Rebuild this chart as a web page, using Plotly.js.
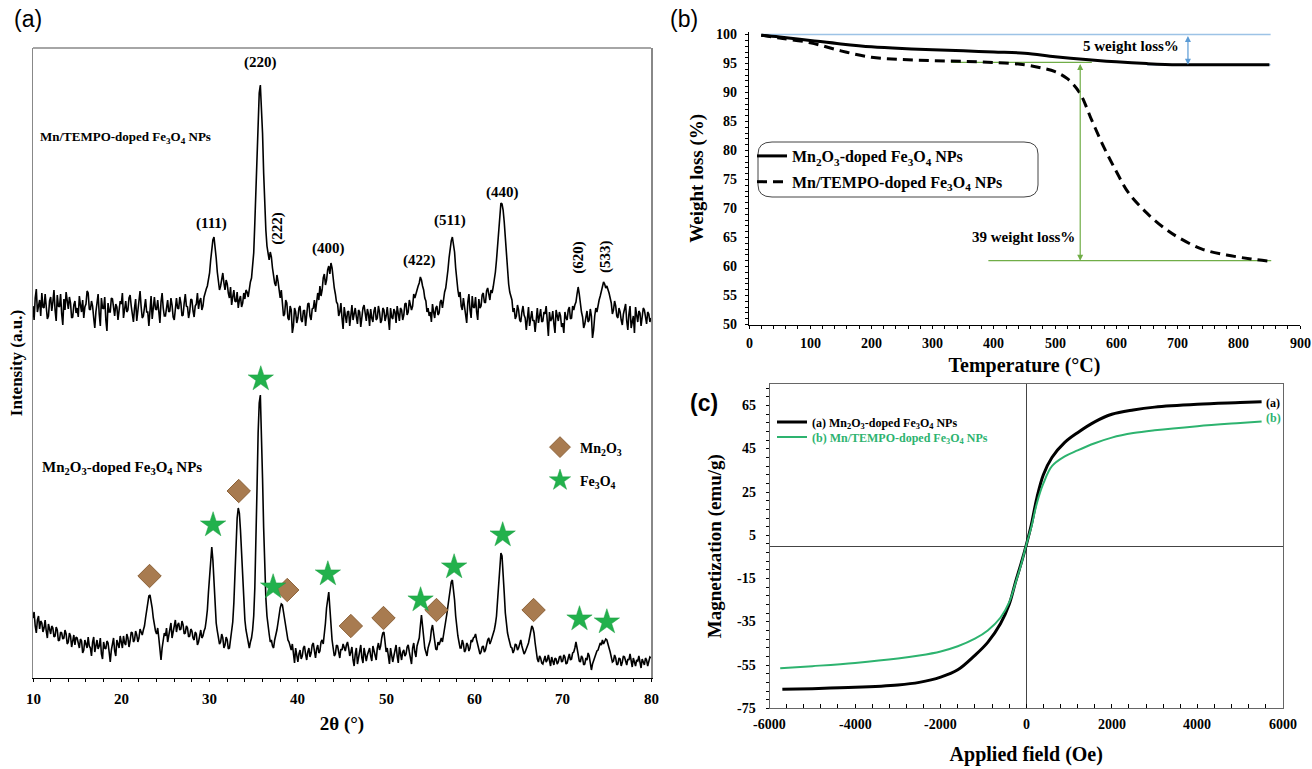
<!DOCTYPE html>
<html><head><meta charset="utf-8">
<script src="https://cdn.plot.ly/plotly-3.0.1.min.js"></script>
<style>html,body{margin:0;padding:0;background:#fff;}#chart{width:1312px;height:769px;}</style>
</head><body><div id="chart"></div>
<script>
// ---------- (a) XRD ----------
const twoTheta = [
10,10.125,10.25,10.375,10.5,10.625,10.75,10.875,11,11.125,11.25,11.375,11.5,11.625,11.75,11.875,12,12.125,12.25,12.375,12.5,12.625,12.75,12.875,13,13.125,13.25,13.375,13.5,13.625,13.75,13.875,14,14.125,14.25,14.375,14.5,14.625,14.75,14.875,
15,15.125,15.25,15.375,15.5,15.625,15.75,15.875,16,16.125,16.25,16.375,16.5,16.625,16.75,16.875,17,17.125,17.25,17.375,17.5,17.625,17.75,17.875,18,18.125,18.25,18.375,18.5,18.625,18.75,18.875,19,19.125,19.25,19.375,19.5,19.625,19.75,19.875,
20,20.125,20.25,20.375,20.5,20.625,20.75,20.875,21,21.125,21.25,21.375,21.5,21.625,21.75,21.875,22,22.125,22.25,22.375,22.5,22.625,22.75,22.875,23,23.125,23.25,23.375,23.5,23.625,23.75,23.875,24,24.125,24.25,24.375,24.5,24.625,24.75,24.875,
25,25.125,25.25,25.375,25.5,25.625,25.75,25.875,26,26.125,26.25,26.375,26.5,26.625,26.75,26.875,27,27.125,27.25,27.375,27.5,27.625,27.75,27.875,28,28.125,28.25,28.375,28.5,28.625,28.75,28.875,29,29.125,29.25,29.375,29.5,29.625,29.75,29.875,
30,30.125,30.25,30.375,30.5,30.625,30.75,30.875,31,31.125,31.25,31.375,31.5,31.625,31.75,31.875,32,32.125,32.25,32.375,32.5,32.625,32.75,32.875,33,33.125,33.25,33.375,33.5,33.625,33.75,33.875,34,34.125,34.25,34.375,34.5,34.625,34.75,34.875,
35,35.125,35.25,35.375,35.5,35.625,35.75,35.875,36,36.125,36.25,36.375,36.5,36.625,36.75,36.875,37,37.125,37.25,37.375,37.5,37.625,37.75,37.875,38,38.125,38.25,38.375,38.5,38.625,38.75,38.875,39,39.125,39.25,39.375,39.5,39.625,39.75,39.875,
40,40.125,40.25,40.375,40.5,40.625,40.75,40.875,41,41.125,41.25,41.375,41.5,41.625,41.75,41.875,42,42.125,42.25,42.375,42.5,42.625,42.75,42.875,43,43.125,43.25,43.375,43.5,43.625,43.75,43.875,44,44.125,44.25,44.375,44.5,44.625,44.75,44.875,
45,45.125,45.25,45.375,45.5,45.625,45.75,45.875,46,46.125,46.25,46.375,46.5,46.625,46.75,46.875,47,47.125,47.25,47.375,47.5,47.625,47.75,47.875,48,48.125,48.25,48.375,48.5,48.625,48.75,48.875,49,49.125,49.25,49.375,49.5,49.625,49.75,49.875,
50,50.125,50.25,50.375,50.5,50.625,50.75,50.875,51,51.125,51.25,51.375,51.5,51.625,51.75,51.875,52,52.125,52.25,52.375,52.5,52.625,52.75,52.875,53,53.125,53.25,53.375,53.5,53.625,53.75,53.875,54,54.125,54.25,54.375,54.5,54.625,54.75,54.875,
55,55.125,55.25,55.375,55.5,55.625,55.75,55.875,56,56.125,56.25,56.375,56.5,56.625,56.75,56.875,57,57.125,57.25,57.375,57.5,57.625,57.75,57.875,58,58.125,58.25,58.375,58.5,58.625,58.75,58.875,59,59.125,59.25,59.375,59.5,59.625,59.75,59.875,
60,60.125,60.25,60.375,60.5,60.625,60.75,60.875,61,61.125,61.25,61.375,61.5,61.625,61.75,61.875,62,62.125,62.25,62.375,62.5,62.625,62.75,62.875,63,63.125,63.25,63.375,63.5,63.625,63.75,63.875,64,64.125,64.25,64.375,64.5,64.625,64.75,64.875,
65,65.125,65.25,65.375,65.5,65.625,65.75,65.875,66,66.125,66.25,66.375,66.5,66.625,66.75,66.875,67,67.125,67.25,67.375,67.5,67.625,67.75,67.875,68,68.125,68.25,68.375,68.5,68.625,68.75,68.875,69,69.125,69.25,69.375,69.5,69.625,69.75,69.875,
70,70.125,70.25,70.375,70.5,70.625,70.75,70.875,71,71.125,71.25,71.375,71.5,71.625,71.75,71.875,72,72.125,72.25,72.375,72.5,72.625,72.75,72.875,73,73.125,73.25,73.375,73.5,73.625,73.75,73.875,74,74.125,74.25,74.375,74.5,74.625,74.75,74.875,
75,75.125,75.25,75.375,75.5,75.625,75.75,75.875,76,76.125,76.25,76.375,76.5,76.625,76.75,76.875,77,77.125,77.25,77.375,77.5,77.625,77.75,77.875,78,78.125,78.25,78.375,78.5,78.625,78.75,78.875,79,79.125,79.25,79.375,79.5,79.625,79.75,79.875,
80];
// Mn/TEMPO-doped Fe3O4 NPs (upper pattern, offset a.u.)
const xrdTempo = [
372,358,380,389,366,375,378,362,385,371,370,384,374,359,362,377,381,367,376,388,368,357,383,372,371,384,364,353,379,368,386,374,369,381,375,360,361,373,377,365,
370,361,382,373,366,378,360,371,374,387,385,369,368,377,372,360,350,366,376,384,364,352,380,370,369,381,358,347,375,366,366,380,379,370,362,374,371,358,367,377,
374,385,360,369,377,366,368,380,383,372,364,356,370,379,357,368,376,387,371,360,362,373,379,366,366,352,373,382,359,370,381,369,368,378,364,355,376,385,370,362,
362,371,378,366,367,380,373,361,358,369,380,370,369,381,375,362,363,375,384,372,371,360,366,379,378,367,361,372,374,385,369,377,380,368,372,381,386,389,392,398,
405,418,428,438,441,433,420,406,398,388,392,401,405,395,388,398,394,385,380,391,373,381,388,377,376,386,370,378,382,371,375,385,379,388,386,381,390,396,400,410,
425,455,490,530,565,585,593,575,545,505,470,448,432,425,418,426,421,410,402,395,392,403,397,386,380,388,372,362,364,378,375,360,358,372,368,345,352,370,366,355,
360,370,372,358,356,367,368,352,363,374,375,362,358,369,370,378,366,380,385,378,392,382,388,400,404,393,398,408,412,404,415,410,396,390,384,376,374,362,366,375,
360,349,371,362,355,366,367,352,362,373,358,366,370,361,354,368,366,351,361,370,373,362,357,369,364,352,369,360,356,367,371,358,360,372,366,355,358,370,368,357,
362,371,355,348,370,361,359,369,366,355,372,364,357,370,368,358,363,374,375,363,366,378,372,368,372,384,380,386,388,392,395,401,398,392,388,380,377,366,370,362,
366,356,374,366,360,370,372,363,365,376,378,370,380,386,390,398,408,420,430,437,441,435,426,410,396,388,381,386,372,368,380,372,364,355,376,384,368,360,382,371,
370,381,366,358,379,370,372,383,385,376,375,387,390,383,378,388,385,391,398,406,418,434,452,466,475,474,468,456,440,420,405,394,386,380,378,366,370,359,362,373,
368,358,356,366,372,363,360,348,365,371,352,362,367,357,358,346,362,370,355,364,369,356,357,366,364,372,350,342,366,357,359,367,354,345,368,360,357,366,362,351,
355,345,366,360,358,368,371,359,360,372,368,373,376,384,391,384,372,366,361,350,354,362,367,356,358,369,362,340,348,362,370,366,374,378,382,388,390,396,394,390,
392,389,385,380,375,364,368,377,372,362,360,370,366,358,353,364,369,374,357,348,364,372,350,359,362,345,371,363,356,367,365,352,359,370,368,358,354,366,364,356,
360];
// Mn2O3-doped Fe3O4 NPs (lower pattern)
const xrdMn2O3 = [
60,66,52,45,58,62,49,57,55,46,50,58,47,40,54,48,44,52,50,41,42,51,48,37,38,46,45,39,40,48,44,34,36,45,42,31,38,43,33,41,
40,33,30,39,37,25,28,38,35,30,41,32,30,22,36,41,26,33,38,29,32,40,24,19,36,30,29,37,35,26,16,28,33,40,27,22,38,32,30,42,
36,30,42,35,33,44,40,31,37,46,45,36,38,47,43,36,40,49,46,43,48,52,60,68,75,82,83,78,70,60,52,47,44,50,40,28,18,30,38,45,
42,50,36,44,48,55,40,47,52,58,46,53,55,48,49,57,53,44,45,52,50,41,42,49,47,40,38,46,44,33,36,45,48,40,42,47,50,58,68,86,
105,122,131,118,95,72,55,47,42,34,36,44,40,30,33,41,38,29,30,38,45,56,75,108,140,160,170,165,148,125,100,76,58,48,42,33,30,36,40,48,
62,90,130,190,245,275,283,250,200,150,110,80,62,50,44,36,38,32,30,38,42,48,55,64,70,74,73,66,58,50,42,38,36,30,28,34,22,15,30,24,
16,24,28,19,22,30,32,24,18,26,30,21,25,33,35,27,20,29,33,25,27,36,38,34,42,55,70,82,86,70,50,38,30,22,24,33,32,24,20,29,
28,34,31,27,33,36,30,22,26,31,18,12,24,30,14,20,28,33,20,15,30,25,17,23,26,30,22,17,32,27,24,18,30,35,28,32,40,45,46,36,
26,30,20,14,30,24,16,22,27,33,22,15,31,25,18,26,28,22,24,31,33,26,20,14,30,35,26,21,32,36,40,52,63,52,36,30,26,22,30,35,
38,48,53,45,35,29,28,36,33,38,40,36,42,48,55,64,72,82,90,96,98,90,78,62,50,42,36,30,30,38,34,26,28,35,33,27,30,38,36,40,
41,44,38,33,30,24,26,31,32,26,28,34,38,40,34,37,40,44,48,54,62,78,95,112,125,122,108,85,65,52,45,40,36,31,30,25,28,34,33,28,
30,36,38,32,28,24,26,30,32,35,40,48,52,50,45,35,25,19,16,22,20,15,14,20,22,16,18,23,15,12,21,17,13,20,19,14,16,21,22,16,
17,23,21,14,15,20,24,18,19,25,26,30,36,30,22,17,16,22,20,13,14,20,18,25,22,15,8,14,17,22,24,27,28,32,35,33,38,34,36,39,
38,35,30,26,22,16,17,23,20,13,14,20,19,12,16,22,21,15,13,19,18,24,15,11,20,16,12,18,17,22,14,10,19,15,13,20,18,12,16,21,
20];
const mn2o3PeakX = [23.2, 33.3, 38.8, 46.0, 49.7, 55.7, 66.7];
const mn2o3PeakY = [102, 187, 88, 52, 60, 68, 68];
const fe3o4PeakX = [30.4, 35.8, 37.2, 43.4, 53.9, 57.7, 63.2, 71.9, 75.0];
const fe3o4PeakY = [153, 299, 91, 104, 78, 111, 143, 59, 56];
const hklLabels = ['(220)','(111)','(222)','(400)','(422)','(511)','(440)','(620)','(533)'];
const hklX = [35.8, 30.27, 37.6, 43.5, 53.8, 57.2, 63.2, 71.7, 74.8];
const hklY = [616, 455, 450, 430, 418, 458, 486, 421, 421];
const hklAngle = [0, 0, -90, 0, 0, 0, 0, -90, -90];
const thetaTicks = [10, 20, 30, 40, 50, 60, 70, 80];

// ---------- (b) TGA ----------
const tempMn = [20, 50, 100, 150, 200, 250, 300, 350, 400, 450, 500, 550, 600, 650, 700, 750, 800, 850];
const wtMn = [99.9, 99.6, 99.0, 98.4, 97.9, 97.6, 97.4, 97.2, 97.0, 96.8, 96.2, 95.7, 95.3, 95.0, 94.8, 94.8, 94.8, 94.8];
const tempTempo = [20, 50, 100, 150, 200, 250, 300, 350, 400, 450, 480, 500, 520, 540, 560, 580, 600, 620, 650, 680, 700, 740, 780, 820, 850];
const wtTempo = [99.9, 99.4, 98.6, 97.2, 96.1, 95.7, 95.5, 95.4, 95.2, 94.8, 94.2, 93.6, 92.4, 90.0, 85.2, 80.5, 76.4, 72.7, 69.2, 66.5, 65.1, 63.0, 62.0, 61.3, 60.9];
const lossTop = 100, lossMnEnd = 94.8, lossTempoStart = 95.2, lossTempoEnd = 61;
const tempTicks = [0, 100, 200, 300, 400, 500, 600, 700, 800, 900];
const wtTicks = [50, 55, 60, 65, 70, 75, 80, 85, 90, 95, 100];

// ---------- (c) VSM ----------
const fieldA = [-5700, -5000, -4000, -3000, -2500, -2000, -1600, -1200, -900, -600, -400, -250, -120, 0, 120, 250, 400, 600, 900, 1200, 1600, 2000, 2500, 3000, 4000, 5000, 5500];
const magA = [-66.2, -65.9, -65.3, -64.2, -63.0, -60.6, -57.2, -50.5, -44.5, -35.8, -27.0, -16.5, -8.0, 0.5, 10.0, 22.5, 33.0, 41.0, 48.0, 52.5, 57.5, 61.0, 63.0, 64.3, 65.6, 66.4, 66.8];
const fieldB = [-5750, -5000, -4000, -3000, -2500, -2000, -1600, -1200, -900, -600, -400, -250, -120, 0, 120, 250, 400, 600, 900, 1200, 1600, 2000, 2500, 3000, 4000, 5000, 5500];
const magB = [-56.5, -55.5, -54.0, -52.0, -50.6, -48.7, -46.3, -42.8, -39.0, -33.0, -26.0, -17.0, -8.5, 0.5, 9.0, 20.0, 29.0, 37.0, 41.5, 44.3, 47.6, 50.2, 52.3, 53.6, 55.5, 57.0, 57.7];
const fieldTicks = [-6000, -4000, -2000, 0, 2000, 4000, 6000];
const fieldTickText = ['-6000', '-4000', '-2000', '0', '2000', '4000', '6000'];
const magTicks = [-75, -55, -35, -15, 5, 25, 45, 65];
const magTickText = ['-75', '-55', '-35', '-15', '5', '25', '45', '65'];

// ---------- helpers ----------
const W = 1312, H = 769;
const PX = v => v / W, PY = v => 1 - v / H;
const serif = 'Liberation Serif';
const sans = 'Liberation Sans';
const bf = (size, color) => ({family: serif, size: size, color: color || '#000', weight: 'bold'});
const green = '#2DB36F';
const tgaGreen = '#70AD47';
const tgaBlue = '#9DC3E6';
const arrowBlue = '#5B9BD5';
const blank = arr => arr.map(() => '');

const traces = [
  {x: twoTheta, y: xrdTempo, xaxis: 'x', yaxis: 'y', mode: 'lines', line: {color: '#000', width: 1.6}, showlegend: false, hoverinfo: 'skip'},
  {x: twoTheta, y: xrdMn2O3, xaxis: 'x', yaxis: 'y', mode: 'lines', line: {color: '#000', width: 1.6}, showlegend: false, hoverinfo: 'skip'},
  {x: mn2o3PeakX, y: mn2o3PeakY, xaxis: 'x', yaxis: 'y', mode: 'markers', name: 'Mn<sub>2</sub>O<sub>3</sub>',
   marker: {symbol: 'diamond', size: 18, color: '#A87B50', line: {color: '#8C6239', width: 1}}, legend: 'legend', legendgroup: 'g1'},
  {x: fe3o4PeakX, y: fe3o4PeakY, xaxis: 'x', yaxis: 'y', mode: 'markers', name: 'Fe<sub>3</sub>O<sub>4</sub>',
   marker: {symbol: 'star', size: 19, color: '#22B14C', line: {color: '#1E9E44', width: 0.5}}, legend: 'legend', legendgroup: 'g2'},
  {x: tempMn, y: wtMn, xaxis: 'x2', yaxis: 'y2', mode: 'lines', line: {color: '#000', width: 3, shape: 'spline'},
   name: 'Mn<sub>2</sub>O<sub>3</sub>-doped Fe<sub>3</sub>O<sub>4</sub> NPs', legend: 'legend2', legendgroup: 'g3'},
  {x: tempTempo, y: wtTempo, xaxis: 'x2', yaxis: 'y2', mode: 'lines', line: {color: '#000', width: 3, dash: '10px,6px', shape: 'spline'},
   name: 'Mn/TEMPO-doped Fe<sub>3</sub>O<sub>4</sub> NPs', legend: 'legend2', legendgroup: 'g4'},
  {x: fieldA, y: magA, xaxis: 'x3', yaxis: 'y3', mode: 'lines', line: {color: '#000', width: 3, shape: 'spline'},
   name: '(a) Mn<sub>2</sub>O<sub>3</sub>-doped Fe<sub>3</sub>O<sub>4</sub> NPs', legend: 'legend3', legendgroup: 'g5'},
  {x: fieldB, y: magB, xaxis: 'x3', yaxis: 'y3', mode: 'lines', line: {color: green, width: 2, shape: 'spline'},
   name: '(b) Mn/TEMPO-doped Fe<sub>3</sub>O<sub>4</sub> NPs', legend: 'legend4', legendgroup: 'g6'}
];

const ann = (o) => Object.assign({showarrow: false, xanchor: 'center', yanchor: 'middle'}, o);
const annotations = [
  ann({text: '(a)', xref: 'paper', yref: 'paper', x: PX(28), y: PY(19), font: {family: sans, size: 23, color: '#000', weight: 'normal'}}),
  ann({text: '(b)', xref: 'paper', yref: 'paper', x: PX(684), y: PY(19), font: {family: sans, size: 23, color: '#000', weight: 'normal'}}),
  ann({text: '(c)', xref: 'paper', yref: 'paper', x: PX(704), y: PY(403), font: {family: sans, size: 23, color: '#000', weight: 'bold'}}),
  ann({text: 'Mn/TEMPO-doped Fe<sub>3</sub>O<sub>4</sub> NPs', xref: 'x', yref: 'y', x: 10.6, y: 541, xanchor: 'left', font: bf(13)}),
  ann({text: 'Mn<sub>2</sub>O<sub>3</sub>-doped Fe<sub>3</sub>O<sub>4</sub> NPs', xref: 'x', yref: 'y', x: 10.8, y: 210, xanchor: 'left', font: bf(15)}),
  ann({text: '5 weight loss%', xref: 'x2', yref: 'y2', x: 624, y: 98.0, font: bf(15)}),
  ann({text: '39 weight loss%', xref: 'x2', yref: 'y2', x: 535, y: 65.1, xanchor: 'right', font: bf(15)}),
  {text: '', xref: 'x2', yref: 'y2', axref: 'x2', ayref: 'y2', x: 717, y: lossMnEnd, ax: 717, ay: lossTop, showarrow: true,
   arrowhead: 2, startarrowhead: 2, arrowside: 'end+start', arrowsize: 1, arrowwidth: 1.2, arrowcolor: arrowBlue},
  {text: '', xref: 'x2', yref: 'y2', axref: 'x2', ayref: 'y2', x: 541, y: lossTempoEnd, ax: 541, ay: lossTempoStart, showarrow: true,
   arrowhead: 2, startarrowhead: 2, arrowside: 'end+start', arrowsize: 1, arrowwidth: 1.2, arrowcolor: tgaGreen},
  ann({text: '(a)', xref: 'x3', yref: 'y3', x: 5560, y: 66.3, xanchor: 'left', font: bf(12)}),
  ann({text: '(b)', xref: 'x3', yref: 'y3', x: 5560, y: 59.4, xanchor: 'left', font: bf(12, green)})
];
hklLabels.forEach((t, i) => annotations.push(ann({text: t, xref: 'x', yref: 'y', x: hklX[i], y: hklY[i], textangle: hklAngle[i], font: bf(15)})));
// tick labels (bold Times-like), drawn as annotations at the axis tick values
thetaTicks.forEach(v => annotations.push(ann({text: String(v), xref: 'x', yref: 'paper', x: v, y: PY(699), font: bf(15)})));
tempTicks.forEach(v => annotations.push(ann({text: String(v), xref: 'x2', yref: 'paper', x: v, y: PY(343), font: bf(14)})));
wtTicks.forEach(v => annotations.push(ann({text: String(v), xref: 'paper', yref: 'y2', x: PX(739), y: v, xanchor: 'right', font: bf(14)})));
fieldTicks.forEach((v, i) => annotations.push(ann({text: fieldTickText[i], xref: 'x3', yref: 'paper', x: v, y: PY(724), font: bf(14)})));
magTicks.forEach((v, i) => annotations.push(ann({text: magTickText[i], xref: 'paper', yref: 'y3', x: PX(758), y: v, xanchor: 'right', font: bf(14)})));

// rounded legend frame for (b)
const bx0 = PX(758), bx1 = PX(1038), byT = PY(142), byB = PY(197), rx = 14 / W, ry = 12 / H;
const roundPath = `M ${bx0 + rx},${byT} L ${bx1 - rx},${byT} Q ${bx1},${byT} ${bx1},${byT - ry} L ${bx1},${byB + ry} Q ${bx1},${byB} ${bx1 - rx},${byB} L ${bx0 + rx},${byB} Q ${bx0},${byB} ${bx0},${byB + ry} L ${bx0},${byT - ry} Q ${bx0},${byT} ${bx0 + rx},${byT} Z`;

const shapes = [
  {type: 'line', xref: 'x domain', yref: 'y domain', x0: 0, x1: 1, y0: 1, y1: 1, line: {color: '#888', width: 1.5}},
  {type: 'line', xref: 'x2', yref: 'y2', x0: 21, x1: 852, y0: lossTop, y1: lossTop, line: {color: tgaBlue, width: 1.5}, layer: 'below'},
  {type: 'line', xref: 'x2', yref: 'y2', x0: 650, x1: 852, y0: lossMnEnd, y1: lossMnEnd, line: {color: tgaBlue, width: 1.5}, layer: 'below'},
  {type: 'line', xref: 'x2', yref: 'y2', x0: 330, x1: 560, y0: lossTempoStart, y1: lossTempoStart, line: {color: tgaGreen, width: 1.2}, layer: 'below'},
  {type: 'line', xref: 'x2', yref: 'y2', x0: 391, x1: 853, y0: lossTempoEnd, y1: lossTempoEnd, line: {color: tgaGreen, width: 1.2}, layer: 'below'},
  {type: 'path', xref: 'paper', yref: 'paper', path: roundPath, line: {color: '#444', width: 1}, fillcolor: 'rgba(0,0,0,0)'}
];

const legendBase = (x, y, size) => ({x: x, y: y, xanchor: 'left', yanchor: 'middle', bgcolor: 'rgba(0,0,0,0)', font: bf(size)});
const layout = {
  width: W, height: H, margin: {l: 0, r: 0, t: 0, b: 0}, paper_bgcolor: '#fff', plot_bgcolor: 'rgba(0,0,0,0)',
  showlegend: true,
  font: {family: serif, size: 14, color: '#000'},
  xaxis: {domain: [PX(33), PX(651)], range: [10, 80], anchor: 'y', tickmode: 'array', tickvals: thetaTicks, ticktext: blank(thetaTicks), showticklabels: false,
    ticks: 'outside', ticklen: 5, tickcolor: '#000',
    showline: true, linecolor: '#000', linewidth: 1.2, showgrid: false, zeroline: false, automargin: false,
    minor: {tickmode: 'linear', tick0: 10, dtick: 2, ticks: 'outside', ticklen: 3, tickcolor: '#000'},
    title: {text: '2θ (°)', font: bf(19), standoff: 33}},
  yaxis: {domain: [PY(678), PY(48)], range: [0, 630], anchor: 'x', showticklabels: false, ticks: '', showline: true, mirror: true,
    linecolor: '#888', linewidth: 1.5, showgrid: false, zeroline: false, automargin: false,
    title: {text: 'Intensity (a.u.)', font: bf(17), standoff: 4}},
  xaxis2: {domain: [PX(749), PX(1300)], range: [0, 900], anchor: 'y2', tickmode: 'array', tickvals: tempTicks, ticktext: blank(tempTicks), showticklabels: false,
    ticks: 'outside', ticklen: 5, tickcolor: '#000',
    showline: true, linecolor: '#000', showgrid: false, zeroline: false, automargin: false,
    minor: {tickmode: 'linear', tick0: 0, dtick: 20, ticks: 'outside', ticklen: 3, tickcolor: '#000'},
    title: {text: 'Temperature (°C)', font: bf(20), standoff: 28}},
  yaxis2: {domain: [PY(324.5), PY(32)], range: [50, 100.45], anchor: 'x2', tickmode: 'array', tickvals: wtTicks, ticktext: blank(wtTicks), showticklabels: false,
    ticks: 'outside', ticklen: 5, tickcolor: '#000',
    showline: true, linecolor: '#000', showgrid: false, zeroline: false, automargin: false,
    minor: {tickmode: 'linear', tick0: 50, dtick: 1, ticks: 'outside', ticklen: 3, tickcolor: '#000'},
    title: {text: 'Weight loss (%)', font: bf(19), standoff: 34}},
  xaxis3: {domain: [PX(769.5), PX(1283)], range: [-6000, 6000], anchor: 'y3', tickmode: 'array', tickvals: fieldTicks, ticktext: blank(fieldTicks), showticklabels: false,
    ticks: 'inside', ticklen: 6, tickcolor: '#000',
    showline: true, mirror: true, linecolor: '#666', showgrid: false, zeroline: true, zerolinecolor: '#444', zerolinewidth: 1,
    automargin: false, minor: {tickmode: 'linear', tick0: -6000, dtick: 400, ticks: 'inside', ticklen: 4, tickcolor: '#000'},
    title: {text: 'Applied field (Oe)', font: bf(20), standoff: 38}},
  yaxis3: {domain: [PY(708.3), PY(384)], range: [-75, 75], anchor: 'x3', tickmode: 'array', tickvals: magTicks, ticktext: blank(magTicks), showticklabels: false,
    ticks: 'outside', ticklen: 5, tickcolor: '#000',
    showline: true, mirror: true, linecolor: '#666', showgrid: false, zeroline: true, zerolinecolor: '#444', zerolinewidth: 1,
    automargin: false, minor: {tickmode: 'linear', tick0: -75, dtick: 4, ticks: 'outside', ticklen: 3, tickcolor: '#000'},
    title: {text: 'Magnetization (emu/g)', font: bf(19), standoff: 36}},
  legend: Object.assign(legendBase(PX(540), PY(464), 14), {tracegroupgap: 12}),
  legend2: Object.assign(legendBase(PX(752), PY(169), 16), {tracegroupgap: 2}),
  legend3: legendBase(PX(772), PY(422), 12),
  legend4: Object.assign(legendBase(PX(772), PY(437), 12), {font: bf(12, green)}),
  annotations: annotations,
  shapes: shapes
};

Plotly.newPlot('chart', traces, layout, {staticPlot: true, displayModeBar: false});
</script></body></html>
